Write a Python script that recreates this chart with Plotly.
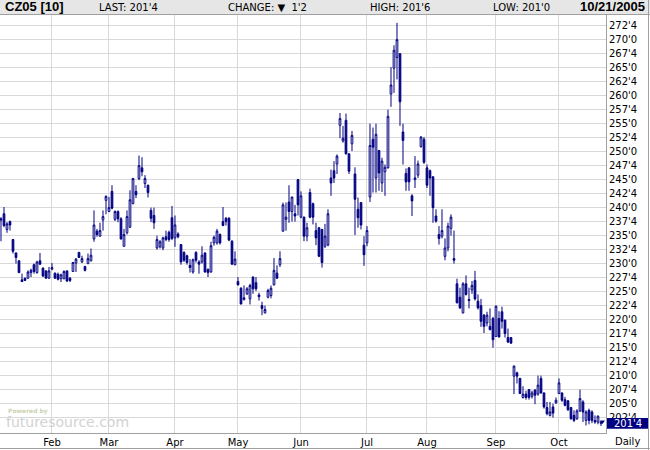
import plotly.graph_objects as go
import pandas as pd

# ---------------- data ----------------
holidays = ['2005-01-17', '2005-02-21', '2005-03-25', '2005-05-30', '2005-07-04', '2005-09-05']
dates = [d.strftime('%Y-%m-%d') for d in pd.bdate_range('2005-01-06', '2005-10-21')
         if d.strftime('%Y-%m-%d') not in holidays]

open_ = [238.0, 238.9, 236.1, 237.5, 234.3, 231.9, 230.5, 227.1, 227.4, 227.4,
         228.4, 229.8, 228.4, 230.5, 229.2, 228.7, 227.4, 229.0, 228.3, 228.1,
         227.3, 227.3, 228.7, 227.4, 228.6, 230.1, 232.0, 230.3, 229.5, 230.0,
         230.5, 234.4, 235.8, 234.9, 237.8, 241.3, 239.3, 242.9, 237.9, 239.3,
         238.0, 233.1, 235.5, 236.5, 240.7, 242.9, 245.2, 247.1, 244.3, 244.0,
         239.5, 238.6, 232.8, 233.0, 232.8, 234.8, 235.6, 238.2, 234.6, 235.3,
         233.4, 232.0, 231.4, 229.7, 228.5, 232.0, 230.3, 230.3, 231.9, 229.0,
         228.5, 233.7, 233.7, 235.2, 237.5, 238.1, 238.1, 234.0, 229.8, 226.8,
         225.6, 223.6, 224.6, 223.7, 227.6, 226.6, 224.4, 222.5, 221.2, 224.0,
         224.3, 226.2, 228.3, 229.8, 235.8, 237.9, 241.0, 239.3, 238.9, 245.0,
         238.3, 238.3, 234.9, 242.7, 240.7, 235.9, 236.4, 236.1, 233.1, 233.3,
         245.3, 246.6, 247.8, 254.7, 251.9, 255.6, 249.6, 251.4, 246.0, 239.7,
         240.9, 233.3, 233.7, 241.9, 252.2, 245.3, 250.2, 244.4, 246.4, 247.1,
         260.3, 264.9, 266.8, 267.5, 253.5, 246.1, 247.1, 242.1, 245.0, 245.8,
         250.9, 252.2, 247.1, 246.6, 245.5, 238.5, 235.2, 234.9, 231.3, 232.8,
         236.3, 230.9, 226.4, 224.0, 221.2, 226.4, 223.6, 225.3, 227.0, 223.3,
         222.5, 220.8, 219.4, 218.8, 220.2, 217.0, 220.2, 221.4, 219.9, 216.8,
         216.8, 209.9, 210.5, 209.5, 206.1, 206.7, 207.5, 206.3, 207.4, 206.7,
         209.5, 206.9, 204.3, 202.9, 204.4, 205.1, 206.8, 206.9, 205.7, 205.5,
         204.3, 202.9, 202.3, 203.7, 205.3, 202.0, 203.8, 203.5, 202.0, 201.7,
         201.75]
high = [238.3, 240.1, 237.4, 237.7, 234.4, 232.0, 230.6, 228.2, 227.5, 228.8,
        229.1, 230.0, 230.5, 231.9, 229.3, 228.8, 229.4, 230.1, 228.4, 228.4,
        228.2, 228.8, 228.8, 227.6, 230.3, 231.0, 232.1, 231.4, 229.6, 231.8,
        232.7, 239.5, 236.2, 237.3, 239.5, 242.2, 241.9, 244.0, 239.5, 239.5,
        238.3, 236.2, 239.5, 243.1, 245.3, 244.0, 249.3, 249.0, 245.8, 244.1,
        240.0, 240.0, 235.0, 234.2, 234.8, 235.9, 235.9, 240.3, 238.6, 235.6,
        233.5, 232.2, 231.6, 230.8, 230.9, 232.2, 230.6, 233.1, 232.0, 229.1,
        233.9, 235.0, 236.2, 235.4, 240.1, 238.3, 238.3, 234.2, 232.2, 227.6,
        225.8, 226.1, 225.8, 226.4, 227.7, 227.6, 224.8, 223.2, 222.5, 225.5,
        226.1, 231.0, 229.7, 232.2, 240.9, 240.9, 244.0, 241.9, 240.5, 245.1,
        242.9, 238.4, 237.3, 243.4, 240.9, 237.3, 236.5, 236.2, 237.1, 239.7,
        246.8, 248.3, 249.5, 256.9, 254.6, 256.8, 249.7, 253.7, 247.2, 241.8,
        241.0, 234.9, 236.7, 255.0, 254.3, 255.0, 250.3, 248.9, 247.7, 257.5,
        265.1, 269.0, 273.0, 267.6, 255.0, 247.0, 247.2, 242.4, 249.2, 248.4,
        252.8, 252.6, 247.7, 246.8, 245.6, 239.7, 236.7, 239.7, 234.5, 237.3,
        238.8, 235.9, 227.3, 225.7, 226.7, 227.9, 225.7, 226.9, 228.7, 224.5,
        223.7, 221.0, 221.4, 222.0, 220.5, 222.5, 221.5, 222.3, 220.0, 218.4,
        216.9, 211.8, 210.7, 209.6, 208.1, 207.3, 207.6, 207.3, 207.6, 210.0,
        210.0, 207.0, 205.3, 205.3, 205.0, 206.1, 209.5, 207.0, 206.2, 205.6,
        204.4, 203.8, 204.0, 207.5, 205.6, 203.8, 204.1, 203.8, 202.9, 202.9,
        201.75]
low = [234.0, 236.5, 235.5, 235.9, 231.8, 230.0, 228.3, 226.7, 226.9, 227.3,
       227.6, 228.2, 228.2, 229.8, 227.6, 227.3, 227.3, 228.8, 227.3, 227.0,
       226.7, 227.2, 226.7, 226.7, 228.5, 228.5, 231.0, 230.1, 228.6, 229.9,
       230.4, 233.9, 234.8, 234.8, 235.9, 238.8, 239.2, 239.7, 237.6, 237.4,
       234.3, 233.0, 235.2, 236.4, 240.6, 241.7, 244.9, 245.6, 243.5, 241.8,
       237.4, 236.2, 232.5, 232.7, 232.4, 234.0, 233.9, 234.2, 233.0, 234.5,
       229.8, 230.3, 229.8, 228.4, 228.2, 230.2, 228.2, 230.0, 228.4, 227.6,
       228.4, 233.2, 233.4, 233.4, 236.7, 236.8, 234.0, 229.8, 229.7, 226.1,
       222.7, 223.4, 224.4, 222.7, 224.6, 225.1, 223.4, 220.8, 221.1, 223.8,
       223.8, 226.1, 227.3, 229.4, 235.7, 235.9, 237.3, 237.5, 237.5, 238.6,
       238.1, 234.0, 234.0, 238.1, 237.0, 233.3, 231.2, 229.3, 232.8, 233.1,
       242.1, 244.4, 246.0, 252.4, 251.6, 249.5, 246.0, 250.1, 235.1, 236.4,
       236.1, 229.6, 233.1, 241.0, 242.7, 242.7, 243.0, 242.8, 242.1, 247.0,
       258.0, 260.5, 262.9, 254.6, 247.7, 243.0, 243.0, 238.5, 243.5, 245.3,
       250.7, 247.8, 243.5, 242.1, 237.3, 237.3, 233.4, 234.5, 230.6, 232.2,
       235.0, 230.0, 222.9, 221.9, 221.1, 224.3, 222.0, 224.6, 223.4, 221.8,
       218.7, 217.6, 218.8, 218.1, 215.0, 216.9, 216.8, 218.4, 216.8, 215.8,
       215.7, 206.7, 208.6, 206.7, 205.9, 205.7, 205.7, 205.9, 204.9, 206.4,
       206.8, 204.1, 202.9, 202.7, 202.5, 205.0, 206.7, 205.3, 204.5, 203.7,
       202.1, 201.7, 202.1, 203.5, 201.7, 201.1, 201.3, 201.5, 201.4, 201.3,
       201.0]
close = [237.8, 236.8, 237.1, 236.9, 232.2, 231.1, 228.4, 226.8, 227.0, 228.5,
         228.8, 228.6, 230.3, 229.9, 227.8, 227.4, 228.7, 229.3, 227.4, 227.2,
         228.0, 228.6, 226.9, 227.0, 230.2, 230.8, 231.1, 230.9, 228.8, 230.9,
         231.5, 236.9, 235.2, 235.9, 238.4, 242.0, 240.0, 239.9, 239.3, 238.0,
         234.4, 235.2, 238.4, 241.4, 245.2, 242.3, 247.5, 246.4, 245.2, 242.7,
         238.1, 237.3, 234.3, 233.9, 234.6, 234.3, 234.3, 234.5, 236.9, 234.8,
         230.3, 230.6, 230.2, 229.3, 230.7, 230.6, 229.9, 231.5, 228.5, 228.4,
         233.2, 234.7, 235.8, 233.7, 236.8, 237.5, 234.2, 229.9, 230.8, 226.2,
         222.8, 223.9, 225.5, 226.1, 225.5, 225.5, 224.1, 222.0, 221.8, 225.2,
         225.6, 228.8, 227.4, 230.9, 240.5, 238.3, 239.3, 241.9, 238.5, 240.5,
         242.1, 234.9, 236.4, 238.3, 238.3, 234.6, 231.3, 230.2, 234.9, 238.9,
         244.4, 245.3, 249.2, 255.9, 252.4, 249.6, 246.5, 252.9, 241.5, 238.2,
         236.9, 231.6, 235.9, 251.1, 250.8, 253.1, 246.2, 248.3, 247.2, 256.3,
         261.9, 268.1, 270.0, 258.9, 252.0, 244.6, 244.6, 241.2, 245.3, 247.8,
         252.6, 248.1, 244.0, 245.3, 240.0, 237.6, 234.5, 235.9, 232.8, 236.7,
         238.3, 230.6, 223.0, 222.1, 226.4, 224.5, 223.4, 226.1, 223.7, 222.1,
         219.7, 218.8, 220.8, 218.2, 216.4, 222.4, 216.9, 219.7, 217.5, 216.0,
         215.8, 211.7, 209.9, 206.8, 206.7, 206.1, 206.1, 206.9, 206.5, 208.3,
         206.9, 204.4, 203.2, 203.5, 203.3, 205.6, 208.7, 205.6, 204.7, 203.9,
         202.3, 202.0, 203.7, 205.9, 203.5, 203.5, 202.0, 202.0, 201.7, 202.75,
         201.5]

month_ticks = ['2005-02-01', '2005-03-01', '2005-04-01', '2005-05-02', '2005-06-01',
               '2005-07-01', '2005-08-01', '2005-09-01', '2005-10-03']
month_labels = ['Feb', 'Mar', 'Apr', 'May', 'Jun', 'Jul', 'Aug', 'Sep', 'Oct']

price_ticks = [202.5, 205.0, 207.5, 210.0, 212.5, 215.0, 217.5, 220.0, 222.5, 225.0,
               227.5, 230.0, 232.5, 235.0, 237.5, 240.0, 242.5, 245.0, 247.5, 250.0,
               252.5, 255.0, 257.5, 260.0, 262.5, 265.0, 267.5, 270.0, 272.5]
price_labels = ["202'4", "205'0", "207'4", "210'0", "212'4", "215'0", "217'4", "220'0",
                "222'4", "225'0", "227'4", "230'0", "232'4", "235'0", "237'4", "240'0",
                "242'4", "245'0", "247'4", "250'0", "252'4", "255'0", "257'4", "260'0",
                "262'4", "265'0", "267'4", "270'0", "272'4"]

symbol = "CZ05 [10]"
last_text = "LAST: 201'4"
change_text = "CHANGE: \u25BC  1'2"
high_text = "HIGH: 201'6"
low_text = "LOW: 201'0"
date_text = "10/21/2005"
last_price = 201.5
last_label = "201'4"

# ---------------- layout helpers ----------------
W, H = 650, 450
ML, MR, MT, MB = 0, 44, 15, 17
PW, PH = W - ML - MR, H - MT - MB
NAVY = '#000080'


def px(x):
    return (x - ML) / PW


def py(y):
    return 1 - (y - MT) / PH


fig = go.Figure(go.Candlestick(
    x=dates, open=open_, high=high, low=low, close=close,
    increasing=dict(line=dict(color=NAVY, width=1), fillcolor='white'),
    decreasing=dict(line=dict(color=NAVY, width=1), fillcolor=NAVY),
    whiskerwidth=0, hoverinfo='skip',
))

shapes = [
    dict(type='rect', xref='paper', yref='paper', x0=px(0), x1=px(W), y0=py(14), y1=py(0),
         fillcolor='#e6e6e6', line=dict(width=0), layer='above'),
    dict(type='line', xref='paper', yref='paper', x0=px(0), x1=px(W), y0=py(14.5), y1=py(14.5),
         line=dict(color='#a0a0a0', width=1)),
    dict(type='line', xref='paper', yref='paper', x0=px(648.5), x1=px(648.5), y0=py(0), y1=py(H),
         line=dict(color='#a0a0a0', width=1)),
    dict(type='line', xref='paper', yref='paper', x0=px(0), x1=px(W), y0=py(448.5), y1=py(448.5),
         line=dict(color='#a0a0a0', width=1)),
    dict(type='rect', xref='paper', yref='y', x0=px(607), x1=px(648), y0=last_price - 1.0,
         y1=last_price + 0.95, fillcolor=NAVY, line=dict(width=0), layer='above'),
    dict(type='path', xref='paper', yref='paper',
         path='M {} {} L {} {} L {} {} Z'.format(px(600), py(420.5), px(605), py(420.5),
                                                 px(602.5), py(424)),
         fillcolor=NAVY, line=dict(width=0), layer='above'),
]

annotations = [
    dict(text='<b>' + symbol + '</b>', x=px(3), y=py(7), xanchor='left', yanchor='middle',
         font=dict(family='Liberation Sans', size=13, color='black')),
    dict(text=last_text, x=px(97), y=py(7.5), xanchor='left', yanchor='middle',
         font=dict(family='DejaVu Sans', size=10, color='black')),
    dict(text=change_text, x=px(226), y=py(7.5), xanchor='left', yanchor='middle',
         font=dict(family='DejaVu Sans', size=10, color='black')),
    dict(text=high_text, x=px(368), y=py(7.5), xanchor='left', yanchor='middle',
         font=dict(family='DejaVu Sans', size=10, color='black')),
    dict(text=low_text, x=px(491), y=py(7.5), xanchor='left', yanchor='middle',
         font=dict(family='DejaVu Sans', size=10, color='black')),
    dict(text='<b>' + date_text + '</b>', x=px(647), y=py(7), xanchor='right', yanchor='middle',
         font=dict(family='Liberation Sans', size=13, color='black')),
    dict(text='Daily', x=px(627), y=py(441), xanchor='center', yanchor='middle',
         font=dict(family='DejaVu Sans', size=10, color='black')),
    dict(text=last_label, x=px(628), yref='y', y=last_price, xanchor='center', yanchor='middle',
         font=dict(family='DejaVu Sans', size=10, color='white')),
    dict(text='<b>Powered by</b>', x=px(6), y=py(411), xanchor='left', yanchor='middle',
         font=dict(family='DejaVu Sans', size=6, color='#c9d3b0')),
    dict(text='futuresource.com', x=px(4), y=py(422), xanchor='left', yanchor='middle',
         font=dict(family='DejaVu Sans', size=14, color='#d2d2d2')),
]
for a in annotations:
    a.setdefault('xref', 'paper')
    a.setdefault('yref', 'paper')
    a['showarrow'] = False

fig.update_layout(
    width=W, height=H, margin=dict(l=ML, r=MR, t=MT, b=MB, pad=0),
    paper_bgcolor='white', plot_bgcolor='white', showlegend=False,
    font=dict(family='DejaVu Sans', size=10, color='black'),
    boxgap=0.2,
    shapes=shapes, annotations=annotations,
    xaxis=dict(type='category', range=[-0.33, len(dates) + 0.67],
               tickvals=month_ticks, ticktext=month_labels,
               showgrid=True, gridcolor='#d9d9d9', gridwidth=1,
               showline=True, linecolor='#a0a0a0', linewidth=1,
               ticks='', ticklen=0, rangeslider=dict(visible=False), fixedrange=True),
    yaxis=dict(side='right', range=[199.75, 274.4],
               tickvals=price_ticks, ticktext=price_labels,
               showgrid=True, gridcolor='#d9d9d9', gridwidth=1,
               showline=True, linecolor='#a0a0a0', linewidth=1,
               ticks='', zeroline=False, fixedrange=True),
)

fig.write_html('out.html', config={'displayModeBar': False},
               post_script="document.body.style.margin='0';document.body.style.overflow='hidden';")
